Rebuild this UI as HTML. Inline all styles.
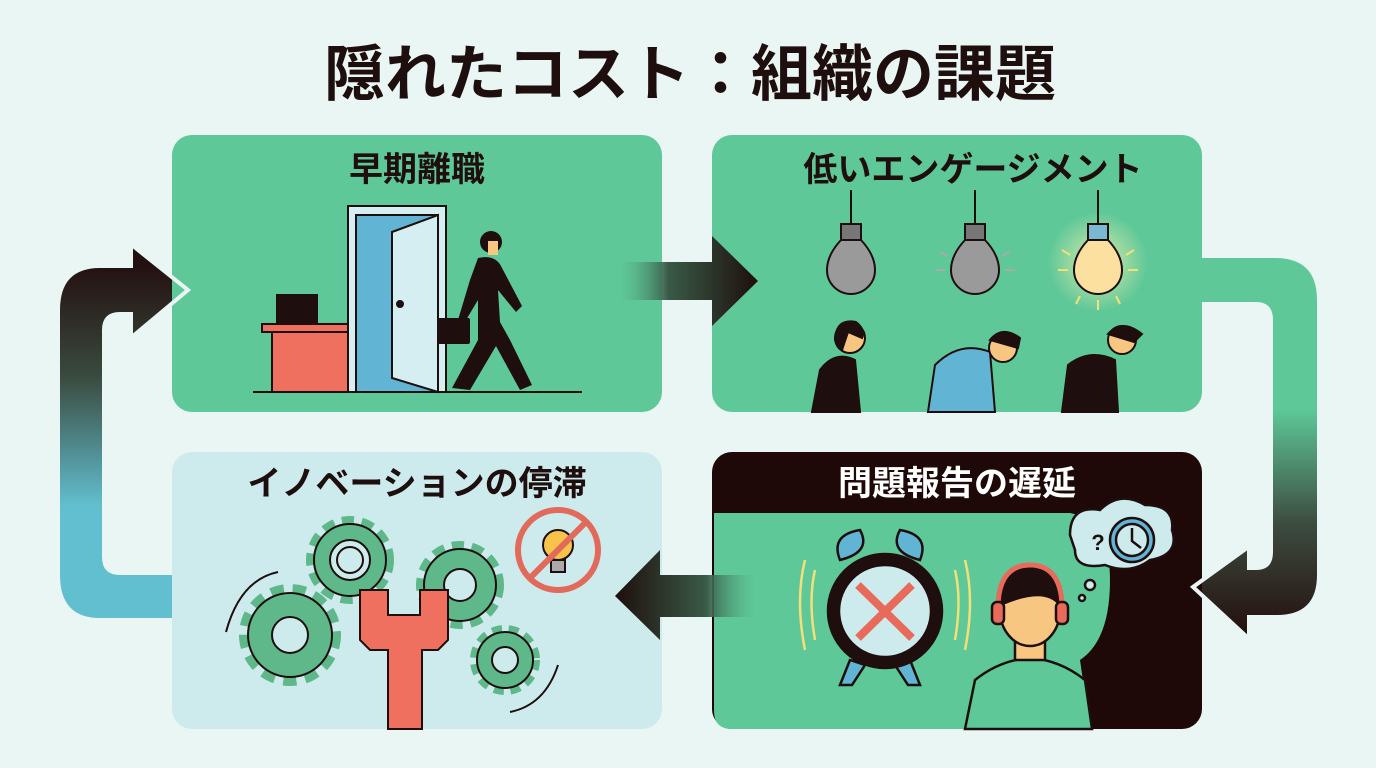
<!DOCTYPE html>
<html><head><meta charset="utf-8"><style>
html,body{margin:0;padding:0;background:#eaf6f3;}
svg{display:block}
text{font-family:"Liberation Sans","Noto Sans CJK JP",sans-serif;font-weight:bold}
</style></head><body>
<svg width="1376" height="768" viewBox="0 0 1376 768" xmlns="http://www.w3.org/2000/svg">
<defs>
<linearGradient id="gl" x1="0" y1="0" x2="0" y2="1"><stop offset="0.05" stop-color="#231010"/><stop offset="0.35" stop-color="#3a4a3e"/><stop offset="0.7" stop-color="#62bfd0"/><stop offset="1" stop-color="#62bfd0"/></linearGradient>
<linearGradient id="gr" x1="0" y1="0" x2="0" y2="1"><stop offset="0.4" stop-color="#5ec898"/><stop offset="0.7" stop-color="#3d4c40"/><stop offset="1" stop-color="#230e0c"/></linearGradient>
<linearGradient id="gt" x1="0" y1="0" x2="1" y2="0"><stop offset="0" stop-color="#5ec898" stop-opacity="0.3"/><stop offset="0.35" stop-color="#3a5a48"/><stop offset="1" stop-color="#1e0e0c"/></linearGradient>
<linearGradient id="gb" x1="1" y1="0" x2="0" y2="0"><stop offset="0" stop-color="#5ec898" stop-opacity="0.3"/><stop offset="0.35" stop-color="#3a5a48"/><stop offset="1" stop-color="#1e0e0c"/></linearGradient>
<radialGradient id="glow"><stop offset="0" stop-color="#fff4b0" stop-opacity="0.8"/><stop offset="1" stop-color="#fff4b0" stop-opacity="0"/></radialGradient>
</defs>
<rect width="1376" height="768" fill="#eaf6f3"/>
<text x="690" y="95" font-size="61" text-anchor="middle" fill="#1e0e0e">隠れたコスト：組織の課題</text>

<!-- left loop arrow -->
<path d="M172 575 L120 575 Q102 575 102 557 L102 330 Q102 312 120 312 L133 312 L133 336 L188 290 L133 246 L133 268 L100 268 Q60 268 60 310 L60 575 Q60 618 100 618 L172 618 Z" fill="url(#gl)"/>
<!-- right loop arrow -->
<path d="M1202 258 L1275 258 Q1317 258 1317 300 L1317 575 Q1317 615 1277 615 L1247 615 L1247 637 L1193 587 L1247 548 L1247 570 L1256 570 Q1273 570 1273 552 L1273 320 Q1273 302 1256 302 L1202 302 Z" fill="url(#gr)"/>

<!-- panels -->
<rect x="172" y="135" width="490" height="277" rx="20" fill="#5ec898"/>
<rect x="712" y="135" width="490" height="277" rx="20" fill="#5ec898"/>
<rect x="172" y="452" width="490" height="277" rx="20" fill="#cdebed"/>
<rect x="712" y="452" width="490" height="277" rx="20" fill="#1e0808"/>
<path d="M726 513 L1070 513 Q1110 520 1110 580 Q1110 640 1080 660 L1090 729 L732 729 Q714 729 714 711 L714 513 Z" fill="#5ec898"/>

<!-- middle arrows -->
<path d="M620 262 L712 262 L712 236 L758 281 L712 326 L712 300 L620 300 Z" fill="url(#gt)"/>
<path d="M755 575 L660 575 L660 550 L615 596 L660 640 L660 617 L755 617 Z" fill="url(#gb)"/>
<path d="M133 246 L188 290 L133 336" fill="none" stroke="#eaf6f3" stroke-width="4"/>
<path d="M1247 548 L1193 587 L1247 637" fill="none" stroke="#eaf6f3" stroke-width="4"/>

<!-- panel titles -->
<text x="417" y="181" font-size="34" text-anchor="middle" fill="#1e0e0e">早期離職</text>
<text x="973" y="181" font-size="34" text-anchor="middle" fill="#1e0e0e">低いエンゲージメント</text>
<text x="417" y="495" font-size="34" text-anchor="middle" fill="#1e0e0e">イノベーションの停滞</text>
<text x="957" y="495" font-size="34" text-anchor="middle" fill="#ffffff">問題報告の遅延</text>

<!-- panel1: desk door person -->
<g stroke="#1e0e0e" stroke-width="2">
<line x1="253" y1="392" x2="582" y2="392"/>
<rect x="277" y="295" width="40" height="30" fill="#1e0e0e"/>
<rect x="262" y="324" width="90" height="8" fill="#f07060"/>
<rect x="272" y="332" width="78" height="60" fill="#f07060"/>
<rect x="348" y="206" width="98" height="186" fill="#d4eef2"/>
<rect x="356" y="215" width="82" height="177" fill="#62b4d4"/>
<path d="M392 232 L438 215 L438 392 L392 378 Z" fill="#d4eef2"/>
<circle cx="400" cy="304" r="3" fill="#1e0e0e"/>
</g>
<g fill="#1e0e0e">
<circle cx="491" cy="242" r="11"/>
<path d="M478 258 Q496 254 502 268 L522 306 L516 312 L498 290 L500 322 L510 340 L532 385 L520 390 L496 346 L470 390 L452 388 L478 340 L478 300 L466 320 L458 320 L470 280 Z"/>
<rect x="438" y="318" width="32" height="26" rx="2"/>
</g>
<rect x="488" y="241" width="10" height="14" fill="#f7c680"/>

<!-- panel2: bulbs -->
<circle cx="1098" cy="262" r="50" fill="url(#glow)"/>
<g stroke="#1e0e0e" stroke-width="2">
<line x1="851" y1="190" x2="851" y2="225"/><line x1="975" y1="190" x2="975" y2="225"/><line x1="1098" y1="190" x2="1098" y2="225"/>
<rect x="841" y="224" width="20" height="16" fill="#777"/>
<rect x="965" y="224" width="20" height="16" fill="#777"/>
<rect x="1088" y="224" width="20" height="16" fill="#7ab8d4"/>
<path d="M841 240 Q827 255 827 270 A24 24 0 0 0 875 270 Q875 255 861 240 Z" fill="#9a9a9a"/>
<path d="M965 240 Q951 255 951 270 A24 24 0 0 0 999 270 Q999 255 985 240 Z" fill="#9a9a9a"/>
<path d="M1088 240 Q1074 255 1074 270 A24 24 0 0 0 1122 270 Q1122 255 1108 240 Z" fill="#fbe0a0"/>
</g>
<g stroke="#aaa" stroke-width="2"><line x1="935" y1="270" x2="945" y2="270"/><line x1="1005" y1="270" x2="1015" y2="270"/><line x1="940" y1="252" x2="948" y2="256"/><line x1="1002" y1="256" x2="1010" y2="252"/></g>
<g stroke="#f3e07a" stroke-width="2"><line x1="1058" y1="270" x2="1068" y2="270"/><line x1="1128" y1="270" x2="1138" y2="270"/><line x1="1062" y1="250" x2="1070" y2="255"/><line x1="1126" y1="255" x2="1134" y2="250"/><line x1="1098" y1="300" x2="1098" y2="310"/><line x1="1080" y1="296" x2="1076" y2="304"/><line x1="1116" y1="296" x2="1120" y2="304"/></g>
<g stroke="#1e0e0e" stroke-width="2">
<path d="M812 412 L820 370 Q835 350 855 360 L860 412 Z" fill="#1e0e0e"/>
<circle cx="850" cy="338" r="15" fill="#f7c680"/>
<path d="M835 340 Q836 318 856 322 Q866 330 862 338 L848 332 L842 350 Z" fill="#1e0e0e"/>
<path d="M928 412 L935 365 Q960 340 990 352 L995 412 Z" fill="#62b4d4"/>
<circle cx="1003" cy="348" r="14" fill="#f7c680"/>
<path d="M990 340 Q1002 325 1020 338 L1018 348 Z" fill="#1e0e0e"/>
<path d="M1062 412 L1068 365 Q1090 348 1115 360 L1118 412 Z" fill="#1e0e0e"/>
<circle cx="1122" cy="340" r="14" fill="#f7c680"/>
<path d="M1108 334 Q1122 318 1142 334 L1134 342 Z" fill="#1e0e0e"/>
</g>

<!-- panel3: gears -->
<g fill="#5eb88a" stroke="#1e0e0e" stroke-width="2">
<circle cx="290" cy="635" r="42" stroke-dasharray="12 8" stroke-width="18" fill="none" stroke="#5eb88a"/>
<circle cx="290" cy="635" r="42"/><circle cx="290" cy="635" r="18" fill="#cdebed"/>
<circle cx="350" cy="560" r="36" stroke-dasharray="11 7" stroke-width="16" fill="none" stroke="#5eb88a"/>
<circle cx="350" cy="560" r="36"/><circle cx="350" cy="560" r="20" fill="#cdebed"/><circle cx="350" cy="560" r="13" fill="#cdebed"/>
<circle cx="460" cy="585" r="36" stroke-dasharray="11 7" stroke-width="16" fill="none" stroke="#5eb88a"/>
<circle cx="460" cy="585" r="36"/><circle cx="460" cy="585" r="16" fill="#cdebed"/>
<circle cx="505" cy="660" r="28" stroke-dasharray="9 6" stroke-width="14" fill="none" stroke="#5eb88a"/>
<circle cx="505" cy="660" r="28"/><circle cx="505" cy="660" r="13" fill="#cdebed"/>
<path d="M360 590 L388 590 L388 615 L420 615 L420 590 L448 590 L448 640 L438 650 L422 650 L422 729 L388 729 L388 650 L370 650 L360 640 Z" fill="#f07060"/>
</g>
<path d="M226 632 Q240 580 278 572" fill="none" stroke="#1e0e0e" stroke-width="2"/>
<path d="M510 712 Q545 705 558 665" fill="none" stroke="#1e0e0e" stroke-width="2"/>
<g stroke="#1e0e0e" stroke-width="2">
<circle cx="558" cy="550" r="40" fill="none" stroke="#e26a5a" stroke-width="6"/>
<circle cx="558" cy="545" r="15" fill="#f7c34a"/>
<rect x="551" y="560" width="14" height="12" fill="#aaa"/>
<line x1="530" y1="578" x2="586" y2="522" stroke="#e26a5a" stroke-width="6"/>
</g>

<!-- panel4: clock and person -->
<g stroke="#1e0e0e" stroke-width="2.5">
<path d="M840 560 Q830 535 860 530 Q872 552 840 560 Z" fill="#62b4d4"/>
<path d="M920 560 Q930 535 900 530 Q888 552 920 560 Z" fill="#62b4d4"/>
<path d="M850 660 L840 685 L852 685 L865 665 Z" fill="#62b4d4"/>
<path d="M910 660 L920 685 L908 685 L895 665 Z" fill="#62b4d4"/>
<circle cx="885" cy="611" r="57" fill="#1e0e0e"/>
<circle cx="885" cy="611" r="46" fill="#cdebed"/>
</g>
<path d="M858 585 L912 638 M912 585 L858 638" stroke="#e86a5a" stroke-width="8"/>
<g stroke="#f3e07a" stroke-width="2.5" fill="none"><path d="M805 560 Q795 600 805 650"/><path d="M815 570 Q808 600 815 640"/><path d="M965 560 Q975 600 965 650"/><path d="M955 570 Q962 600 955 640"/></g>
<g stroke="#1e0e0e" stroke-width="2.5">
<path d="M965 729 L975 680 Q1000 660 1030 658 Q1060 660 1085 680 L1092 729 Z" fill="#5ec898"/>
<rect x="1015" y="630" width="30" height="30" fill="#f7c680"/>
<ellipse cx="1030" cy="610" rx="30" ry="36" fill="#f7c680"/>
<path d="M1000 605 Q995 568 1030 565 Q1065 568 1060 605 Q1045 585 1000 605 Z" fill="#1e0e0e"/>
<path d="M998 615 Q996 565 1030 565 Q1064 565 1062 615" fill="none" stroke="#e86a5a" stroke-width="5"/>
<rect x="992" y="602" width="12" height="22" rx="5" fill="#e86a5a"/>
<rect x="1056" y="602" width="12" height="22" rx="5" fill="#e86a5a"/>
<path d="M1070 535 Q1070 505 1100 510 Q1120 490 1145 505 Q1175 505 1172 530 Q1180 555 1150 560 Q1130 575 1105 565 Q1075 570 1075 550 Z" fill="#cdebed"/>
<circle cx="1090" cy="585" r="5" fill="#cdebed"/><circle cx="1082" cy="598" r="3" fill="#cdebed"/>
<circle cx="1132" cy="540" r="22" fill="#62b4d4"/><circle cx="1132" cy="540" r="16" fill="#cdebed"/>
<path d="M1132 528 L1132 541 L1141 548" fill="none"/>
</g>
<text x="1098" y="550" font-size="22" fill="#1e0e0e" text-anchor="middle">?</text>
</svg>
</body></html>
